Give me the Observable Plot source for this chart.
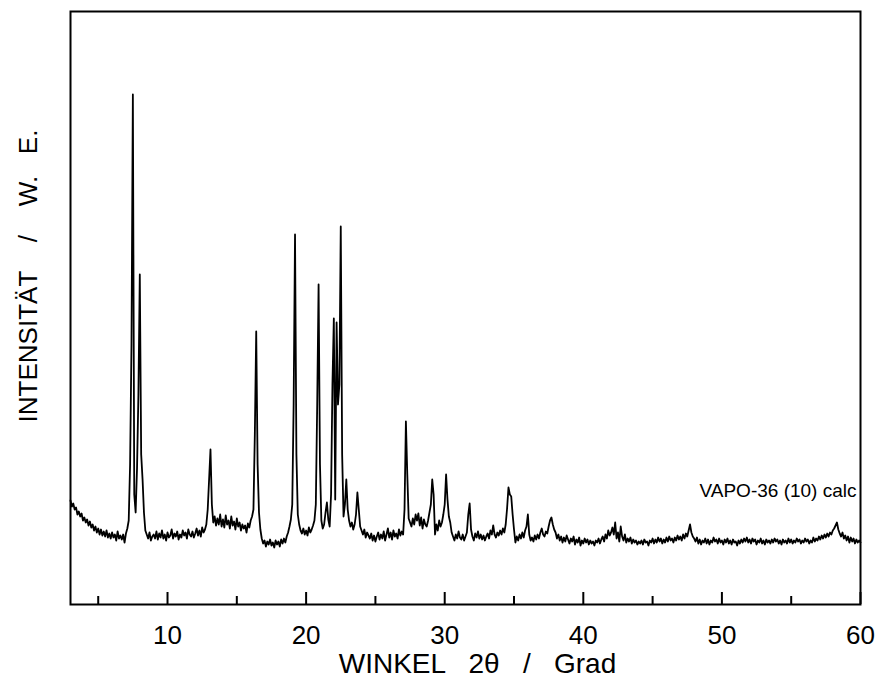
<!DOCTYPE html>
<html>
<head>
<meta charset="utf-8">
<script src="https://cdn.jsdelivr.net/npm/d3@7"></script>
<script src="https://cdn.jsdelivr.net/npm/@observablehq/plot@0.6"></script>
<style>
  body { margin: 0; background: #fff; }
  svg text { white-space: pre; }
</style>
</head>
<body>
<div id="chart"></div>
<script>
// Powder pattern: intensity sampled on a uniform 2θ grid (start 3.0°, step 0.1°)
const startAngle = 3.0;
const stepAngle = 0.1;
const intensity = [
  104, 98,101, 95, 97, 90, 93, 88, 91, 84,   // 3
   87, 82, 85, 79, 83, 77, 80, 74, 78, 72,   // 4
   76, 70, 75, 69, 73, 68, 74, 67, 71, 66,   // 5
   72, 67, 70, 64, 73, 66, 69, 65, 70, 62,   // 6
   71, 76, 84,140,260,510,110, 92,136,210,   // 7
  330,150,125, 92, 74, 70, 66, 72, 64, 68,   // 8
   70, 66, 73, 65, 71, 67, 74, 66, 70, 64,   // 9
   72, 67, 69, 75, 66, 71, 68, 73, 65, 70,   // 10
   67, 74, 69, 72, 66, 75, 70, 68, 73, 67,   // 11
   71, 76, 69, 74, 68, 77, 72, 75, 80, 95,   // 12
  125,155,100, 82, 88, 79, 86, 80, 90, 78,   // 13
   85, 77, 89, 80, 84, 76, 88, 79, 83, 75,   // 14
   86, 78, 82, 74, 80, 76, 79, 72, 81, 77,   // 15
   84, 88, 95,170,273,140, 92, 75, 66, 61,   // 16
   64, 58, 63, 60, 65, 59, 62, 57, 64, 60,   // 17
   63, 58, 65, 61, 66, 62, 68, 72, 78, 85,   // 18
  100,200,370,150, 90, 80, 74, 71, 76, 70,   // 19
   74, 69, 77, 72, 75, 79, 84,100,200,320,   // 20
  140, 84, 76, 80, 92,102, 85, 78,110,220,   // 21
  286,105,282,200,220,378,150, 88,100,125,   // 22
   95, 84, 78, 82, 75, 80, 90,112, 95, 78,   // 23
   74, 70, 75, 67, 72, 69, 66, 71, 64, 69,   // 24
   63, 68, 72, 65, 70, 66, 73, 64, 70, 76,   // 25
   67, 72, 65, 74, 68, 71, 66, 75, 69, 73,   // 26
   70, 95,183,130, 86, 82, 78, 86, 80, 90,   // 27
   84, 91, 79, 87, 76, 85, 80, 78, 84, 92,   // 28
  100,125,110, 70, 80, 74, 84, 78, 82, 90,   // 29
  100,130,105, 88, 82, 72, 68, 64, 70, 66,   // 30
   73, 67, 65, 70, 64, 68, 72, 90,101, 75,   // 31
   68, 64, 71, 67, 73, 66, 70, 65, 69, 64,   // 32
   68, 71, 66, 74, 70, 79, 70, 67, 72, 69,   // 33
   74, 70, 76, 72, 80, 96,117,110,108, 90,   // 34
   75, 62, 68, 64, 70, 66, 72, 67, 74, 78,   // 35
   90, 70, 64, 67, 63, 69, 65, 70, 66, 72,   // 36
   76, 70, 68, 73, 71, 78, 84, 87, 80, 75,   // 37
   72, 66, 70, 64, 68, 62, 67, 63, 69, 65,   // 38
   61, 66, 63, 68, 60, 65, 62, 67, 59, 64,   // 39
   61, 66, 62, 65, 60, 64, 61, 63, 59, 64,   // 40
   62, 66, 61, 65, 68, 63, 70, 66, 74, 69,   // 41
   72, 77, 70, 82, 66, 72, 63, 78, 68, 64,   // 42
   70, 62, 66, 63, 67, 61, 65, 62, 64, 60,   // 43
   63, 61, 64, 60, 65, 62, 63, 59, 64, 62,   // 44
   66, 61, 65, 62, 67, 63, 66, 61, 65, 62,   // 45
   67, 63, 68, 64, 66, 62, 67, 64, 69, 65,   // 46
   68, 64, 70, 66, 71, 68, 74, 80, 72, 68,   // 47
   66, 63, 67, 61, 65, 60, 64, 62, 66, 61,   // 48
   65, 60, 64, 62, 67, 63, 65, 61, 66, 62,   // 49
   64, 60, 65, 62, 66, 61, 64, 60, 65, 62,   // 50
   63, 59, 64, 61, 65, 62, 66, 63, 67, 62,   // 51
   65, 61, 66, 63, 65, 60, 64, 62, 66, 61,   // 52
   64, 60, 65, 62, 64, 61, 65, 62, 66, 63,   // 53
   65, 61, 64, 60, 65, 62, 64, 61, 66, 62,   // 54
   65, 61, 64, 62, 66, 63, 65, 61, 64, 62,   // 55
   66, 63, 65, 61, 64, 62, 67, 63, 66, 64,   // 56
   68, 65, 69, 66, 70, 67, 71, 68, 72, 70,   // 57
   74, 76, 79, 82, 75, 71, 68, 72, 66, 69,   // 58
   64, 68, 62, 67, 63, 66, 61, 65, 62, 64,   // 59
   62                                        // 60
];
const majorTicks = [10, 20, 30, 40, 50, 60];
const minorTicks = [5, 15, 25, 35, 45, 55];
const xTitle = "WINKEL   2θ   /   Grad";
const yTitle = "INTENSITÄT    /    W.   E.";
const sampleLabel = "VAPO-36 (10) calc";

const pattern = intensity.map((v, i) => ({angle: startAngle + i * stepAngle, value: v}));

const W = 879, H = 682;
const plot = Plot.plot({
  width: W,
  height: H,
  marginLeft: 70,
  marginRight: 19,
  marginTop: 11,
  marginBottom: 78,
  style: {fontFamily: "'Liberation Sans', Arial, sans-serif", color: "#000", background: "#fff"},
  x: {domain: [3, 60], label: null},
  y: {domain: [0, 593], axis: null},
  marks: [
    Plot.line(pattern, {x: "angle", y: "value", stroke: "#000", strokeWidth: 1.8, strokeLinejoin: "round"}),
    Plot.tickX(majorTicks, {x: d => d, stroke: "#000", strokeWidth: 2, insetTop: 593 - 12}),
    Plot.tickX(minorTicks, {x: d => d, stroke: "#000", strokeWidth: 2, insetTop: 593 - 8}),
    Plot.axisX(majorTicks, {tickSize: 0, tickPadding: 21, fontSize: 26, fill: "#000", label: null}),
    Plot.frame({stroke: "#000", strokeWidth: 2}),
    Plot.text([xTitle], {frameAnchor: "bottom", textAnchor: "middle", lineAnchor: "middle", dx: 12, dy: 60, fontSize: 28, fill: "#000"}),
    Plot.text([yTitle], {frameAnchor: "left", textAnchor: "middle", lineAnchor: "middle", rotate: -90, dx: -42, dy: -32, fontSize: 26, fill: "#000"}),
    Plot.text([sampleLabel], {frameAnchor: "right", textAnchor: "end", dx: -4, dy: 183, lineAnchor: "middle", fontSize: 19, fill: "#000"})
  ]
});
document.getElementById("chart").appendChild(plot);
</script>
</body>
</html>
